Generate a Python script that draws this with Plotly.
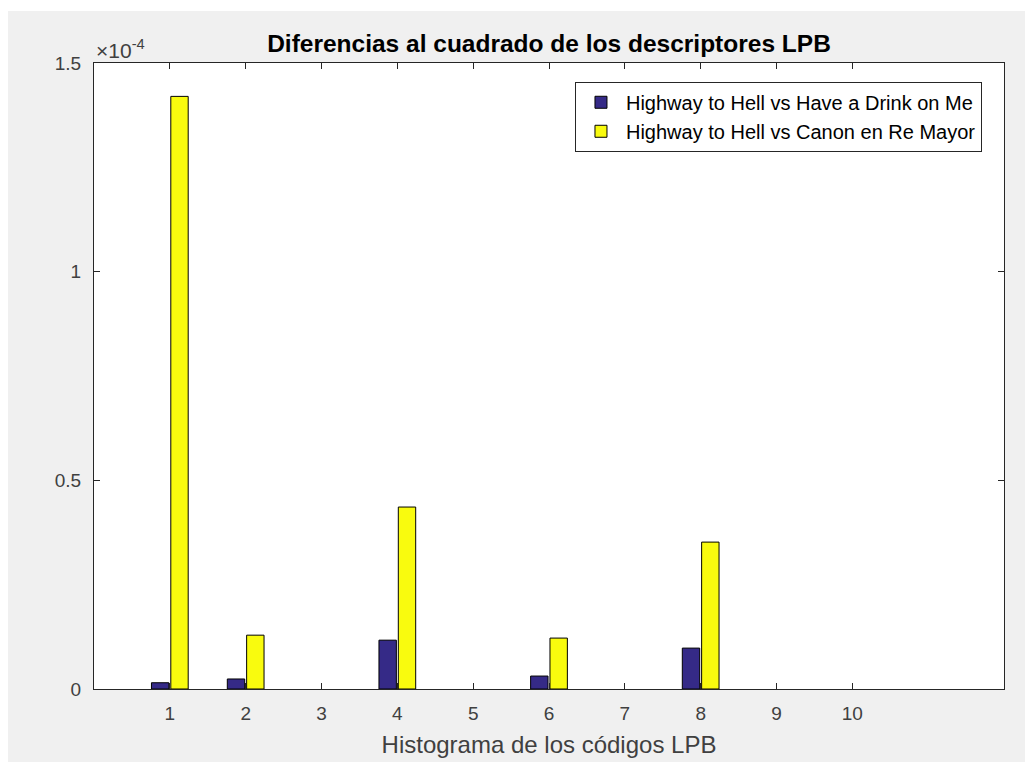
import plotly.graph_objects as go

codigos = [1, 2, 3, 4, 5, 6, 7, 8, 9, 10]
drink_on_me = [0.015e-4, 0.024e-4, 0, 0.117e-4, 0, 0.031e-4, 0, 0.098e-4, 0, 0]
canon_re = [1.42e-4, 0.129e-4, 0, 0.436e-4, 0, 0.122e-4, 0, 0.352e-4, 0, 0]
y_ticks = [0, 0.5e-4, 1e-4, 1.5e-4]
y_labels = ['0', '0.5', '1', '1.5']

FONT = 'Liberation Sans'

fig = go.Figure()
for name, vals, color in [('Highway to Hell vs Have a Drink on Me', drink_on_me, '#352A87'),
                          ('Highway to Hell vs Canon en Re Mayor', canon_re, '#F9FB0E')]:
    # zero-height bars leave no outline in the original
    fig.add_trace(go.Bar(x=codigos, y=vals, name=name,
                         marker=dict(color=color,
                                     line=dict(color='black', width=[1 if v > 0 else 0 for v in vals]))))

axis_style = dict(showline=True, linecolor='#262626', linewidth=1, mirror='ticks',
                  ticks='inside', ticklen=6, tickcolor='#262626', showgrid=False, zeroline=False,
                  automargin=False, tickfont=dict(family=FONT, size=19, color='#404040'))

fig.update_layout(
    width=1025, height=754,
    margin=dict(l=86, r=29, t=55, b=73),
    paper_bgcolor='#F0F0F0', plot_bgcolor='white',
    barmode='group', bargap=0.49, bargroupgap=0.1,
    title=dict(text='<b>Diferencias al cuadrado de los descriptores LPB</b>', xref='paper', x=0.5,
               xanchor='center', y=1 - 35 / 754, yanchor='middle',
               font=dict(family=FONT, size=24.5, color='black')),
    xaxis=dict(range=[0, 12], tickvals=codigos, ticktext=[str(c) for c in codigos],
               ticklabelstandoff=7,
               title=dict(text='Histograma de los códigos LPB', standoff=13,
                          font=dict(family=FONT, size=24, color='#404040')),
               **axis_style),
    yaxis=dict(range=[0, 1.5e-4], tickvals=y_ticks, ticktext=y_labels, ticklabelstandoff=8,
               **axis_style),
    legend=dict(x=0.9758, xanchor='right', y=0.97, yanchor='top', bgcolor='white',
                bordercolor='#262626', borderwidth=1, tracegroupgap=0, itemwidth=40,
                font=dict(family=FONT, size=20, color='black')),
    showlegend=True,
)

fig.add_annotation(text='×10<sup>-4</sup>', xref='paper', yref='paper', x=0.0, y=1.0,
                   xanchor='left', yanchor='bottom', showarrow=False, yshift=-1,
                   font=dict(family=FONT, size=21, color='#404040'))

# thin white strip along the top of the window capture
fig.add_shape(type='rect', xref='paper', yref='paper', x0=-0.2, x1=1.2, y0=1.0831, y1=1.3,
              fillcolor='white', line=dict(width=0), layer='below')

fig.write_html('out.html')
